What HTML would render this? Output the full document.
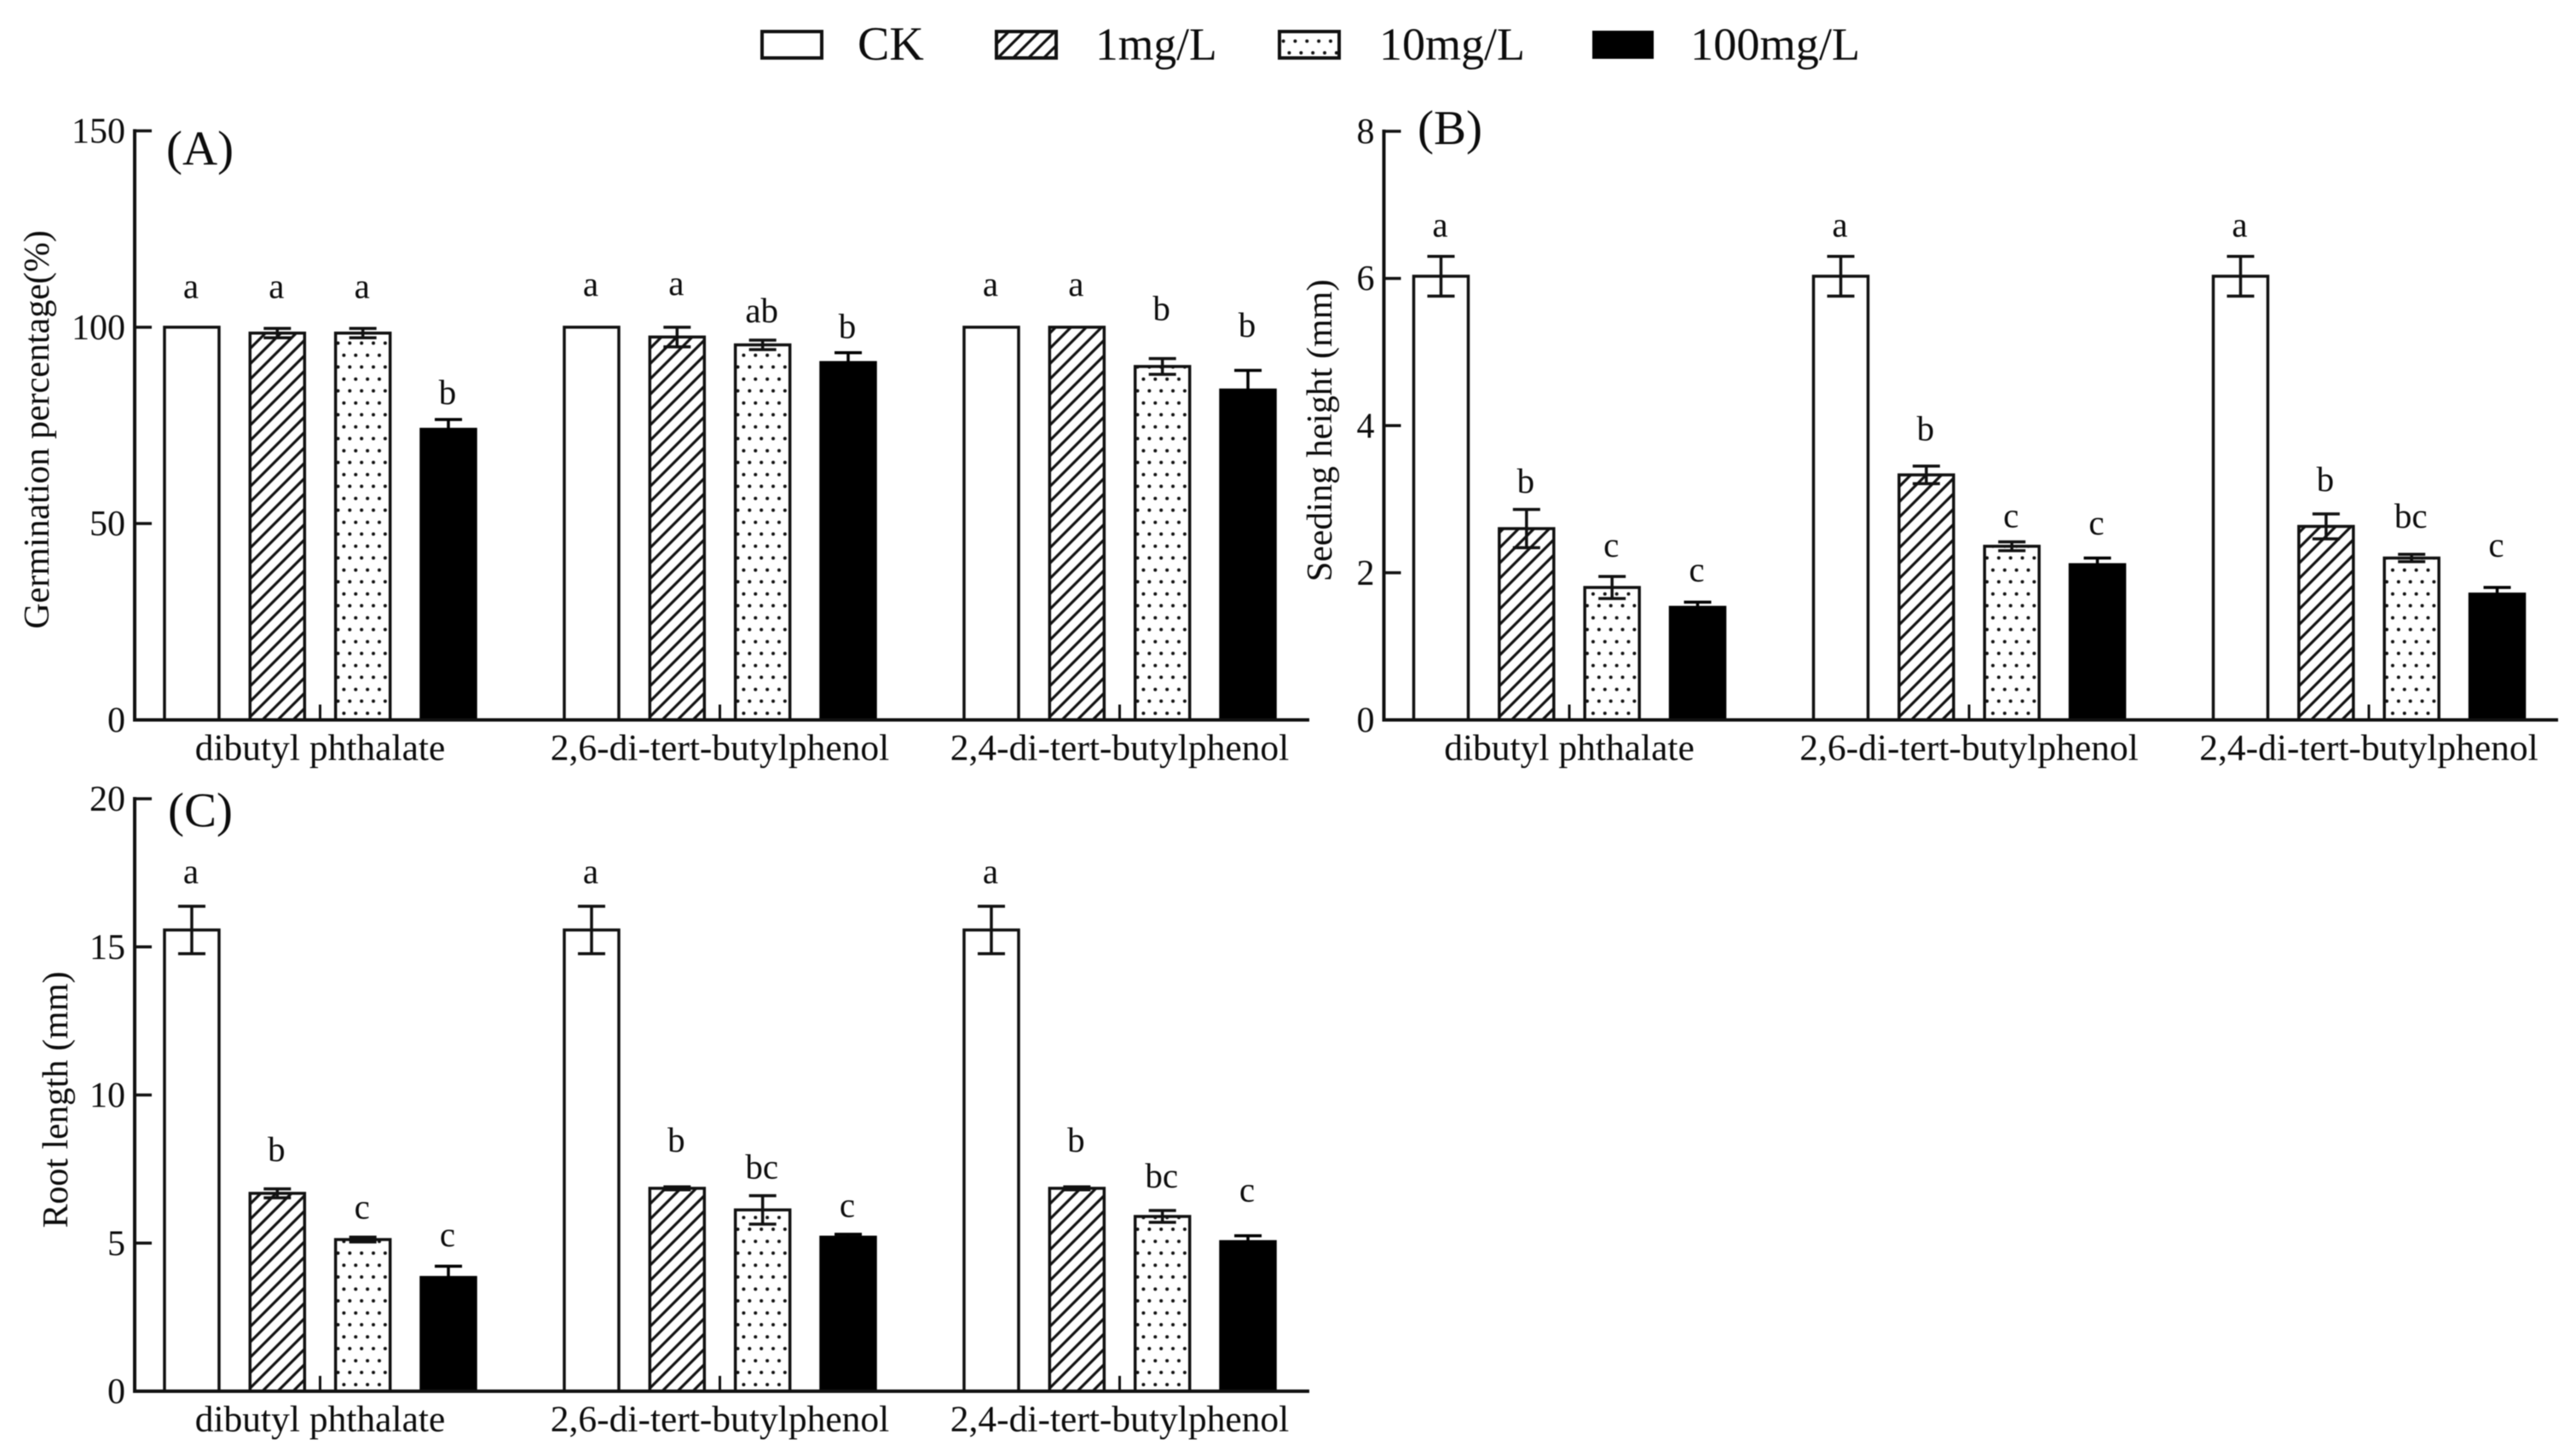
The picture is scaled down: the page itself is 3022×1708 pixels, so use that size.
<!DOCTYPE html>
<html lang="en">
<head>
<meta charset="utf-8">
<title>Germination, seedling height and root length bar charts</title>
<style>
  html, body { margin: 0; padding: 0; background: #fff; }
  #figure { display: block; width: 3022px; height: 1708px; background: #fff; filter: blur(0.5px); }
  text { font-family: "Liberation Serif", serif; fill: #0c0c0c; }
</style>
</head>
<body>
<svg id="figure" xmlns="http://www.w3.org/2000/svg" width="3022" height="1708" viewBox="0 0 3022 1708">
  <defs>
    <pattern id="hatch" patternUnits="userSpaceOnUse" width="18" height="18">
      <path d="M16.5,-2 L-2,16.5 M34.5,-2 L-2,34.5" stroke="#111" stroke-width="3.2" fill="none"/>
    </pattern>
    <pattern id="dots" patternUnits="userSpaceOnUse" width="13.85" height="28">
      <circle cx="2.8" cy="6" r="2" fill="#111"/>
      <circle cx="9.75" cy="20.2" r="2" fill="#111"/>
    </pattern>
  </defs>

  <g id="legend">
    <g>
      <rect x="894" y="37" width="70" height="31" fill="#fff" stroke="#111" stroke-width="4"/>
      <text x="1006" y="70" font-size="56">CK</text>
    </g>
    <g>
      <rect x="1169" y="37" width="70" height="31" fill="url(#hatch)" stroke="#111" stroke-width="4"/>
      <text x="1285" y="70" font-size="53.5">1mg/L</text>
    </g>
    <g>
      <rect x="1501" y="37" width="70" height="31" fill="url(#dots)" stroke="#111" stroke-width="4"/>
      <text x="1618" y="70" font-size="54">10mg/L</text>
    </g>
    <g>
      <rect x="1868" y="36" width="72" height="33" fill="#000"/>
      <text x="1983" y="70" font-size="54.3">100mg/L</text>
    </g>
  </g>
  <g id="charts"></g>
</svg>

<script>
// ---- shared categories ----
const categories = ["dibutyl phthalate", "2,6-di-tert-butylphenol", "2,4-di-tert-butylphenol"];
const seriesNames = ["CK", "1mg/L", "10mg/L", "100mg/L"];

// ---- panel A: germination percentage ----
const germinationTicks = [0, 50, 100, 150];
const germinationCK = [100, 100, 100];
const germination1mg = [98.5, 97.5, 100];
const germination10mg = [98.5, 95.5, 90];
const germination100mg = [74, 91, 84];
const germinationErrCK = [0, 0, 0];
const germinationErr1mg = [1.2, 2.5, 0];
const germinationErr10mg = [1.2, 1.2, 2];
const germinationErr100mg = [2.5, 2.5, 5];
const germinationLettersCK = ["a", "a", "a"];
const germinationLetters1mg = ["a", "a", "a"];
const germinationLetters10mg = ["a", "ab", "b"];
const germinationLetters100mg = ["b", "b", "b"];
// how far above each error cap the letter sits, in axis units
const germinationLiftCK = [7.5, 8, 8];
const germinationLift1mg = [7.8, 8.2, 8];
const germinationLift10mg = [7.8, 4.6, 9.8];
const germinationLift100mg = [3.9, 3.7, 8.6];

// ---- panel B: seedling height ----
const heightTicks = [0, 2, 4, 6, 8];
const heightCK = [6.03, 6.03, 6.03];
const height1mg = [2.6, 3.33, 2.63];
const height10mg = [1.8, 2.36, 2.2];
const height100mg = [1.53, 2.11, 1.71];
const heightErrCK = [0.27, 0.27, 0.27];
const heightErr1mg = [0.26, 0.12, 0.17];
const heightErr10mg = [0.15, 0.06, 0.05];
const heightErr100mg = [0.07, 0.09, 0.09];
const heightLettersCK = ["a", "a", "a"];
const heightLetters1mg = ["b", "b", "b"];
const heightLetters10mg = ["c", "c", "bc"];
const heightLetters100mg = ["c", "c", "c"];
const heightLiftCK = [0.27, 0.27, 0.27];
const heightLift1mg = [0.23, 0.35, 0.31];
const heightLift10mg = [0.27, 0.2, 0.36];
const heightLift100mg = [0.28, 0.32, 0.42];

// ---- panel C: root length ----
const rootTicks = [0, 5, 10, 15, 20];
const rootCK = [15.57, 15.57, 15.57];
const root1mg = [6.68, 6.85, 6.85];
const root10mg = [5.12, 6.12, 5.9];
const root100mg = [3.84, 5.2, 5.05];
const rootErrCK = [0.8, 0.8, 0.8];
const rootErr1mg = [0.15, 0.05, 0.05];
const rootErr10mg = [0.08, 0.48, 0.2];
const rootErr100mg = [0.38, 0.1, 0.2];
const rootLettersCK = ["a", "a", "a"];
const rootLetters1mg = ["b", "b", "b"];
const rootLetters10mg = ["c", "bc", "bc"];
const rootLetters100mg = ["c", "c", "c"];
const rootLiftCK = [0.78, 0.78, 0.78];
const rootLift1mg = [0.94, 1.18, 1.18];
const rootLift10mg = [0.63, 0.58, 0.78];
const rootLift100mg = [0.67, 0.58, 1.16];

const seriesFills = ["#fff", "url(#hatch)", "url(#dots)", "#000"];
const seriesKeys = ["ck", "1mg", "10mg", "100mg"];
const NS = "http://www.w3.org/2000/svg";
const INK = "#111";

function make(tag, attrs, parent, text) {
  const el = document.createElementNS(NS, tag);
  for (const k in attrs) el.setAttribute(k, attrs[k]);
  if (text !== undefined) el.textContent = text;
  parent.appendChild(el);
  return el;
}

function drawPanel(p) {
  const root = document.getElementById("charts");
  const g = make("g", {}, root);
  
  

  const maxV = p.ticks[p.ticks.length - 1];
  const y = v => p.y0 - (p.y0 - p.yTop) * v / maxV;
  const groupX = c => p.firstGroupX + c * 469;
  const barX = (c, s) => groupX(c) + (s - 1.5) * 100.35;
  const barW = 64;

  // bars, error bars and significance letters
  p.values.forEach((series, s) => {
    series.forEach((v, c) => {
      const left = barX(c, s) - barW / 2;
      const bar = make("rect", {
        x: 0, y: y(v) - p.y0, width: barW, height: p.y0 - y(v),
        transform: "translate(" + left + "," + p.y0 + ")",
        fill: seriesFills[s], stroke: s === 3 ? "#000" : INK, "stroke-width": 3.5
      }, g);
      
      

      const e = p.errors[s][c];
      if (e > 0) {
        const cx = barX(c, s);
        const err = make("path", {
          d: "M" + (cx - 16) + "," + y(v + e) + "H" + (cx + 16) +
             "M" + cx + "," + y(v + e) + "V" + y(v - e) +
             "M" + (cx - 16) + "," + y(v - e) + "H" + (cx + 16),
          stroke: s === 3 ? "#000" : INK, "stroke-width": 3.5, fill: "none"
        }, g);
        
        
      }

      const letter = make("text", {
        x: barX(c, s) - 1, y: y(v + e + p.lifts[s][c]),
        "font-size": 41, "text-anchor": "middle"
      }, g, p.letters[s][c]);
      
      
    });
  });

  // y axis
  const yAxis = make("line", {
    x1: p.axisX, x2: p.axisX, y1: p.yTop - 2, y2: p.y0 + 2, stroke: INK, "stroke-width": 4
  }, g);
  
  

  p.ticks.forEach(t => {
    const tick = make("line", {
      x1: p.axisX, x2: p.axisX + 20, y1: y(t), y2: y(t), stroke: INK, "stroke-width": 3.5
    }, g);
    
    

    const lab = make("text", {
      x: p.axisX - 11, y: y(t) + 14, "font-size": 42, "text-anchor": "end"
    }, g, String(t));
    
    
  });

  // x axis
  const xAxis = make("line", {
    x1: p.axisX - 2, x2: p.axisEnd, y1: p.y0, y2: p.y0, stroke: INK, "stroke-width": 4
  }, g);
  
  

  categories.forEach((name, c) => {
    const tick = make("line", {
      x1: groupX(c), x2: groupX(c), y1: p.y0 - 18, y2: p.y0, stroke: INK, "stroke-width": 3
    }, g);
    
    

    const lab = make("text", {
      x: groupX(c), y: p.y0 + 47, "font-size": 43.5, "text-anchor": "middle"
    }, g, name);
    
    
  });

  // titles
  const title = make("text", {
    x: 0, y: 0, "font-size": 42, "text-anchor": "middle",
    transform: "translate(" + p.titleX + "," + p.titleY + ") rotate(-90)"
  }, g, p.title);
  
  

  const tag = make("text", { x: p.tagX, y: p.tagY, "font-size": 57 }, g, p.tag);
  
  
}

drawPanel({
  key: "germination", tag: "(A)", title: "Germination percentage(%)", ticks: germinationTicks,
  values: [germinationCK, germination1mg, germination10mg, germination100mg],
  errors: [germinationErrCK, germinationErr1mg, germinationErr10mg, germinationErr100mg],
  letters: [germinationLettersCK, germinationLetters1mg, germinationLetters10mg, germinationLetters100mg],
  lifts: [germinationLiftCK, germinationLift1mg, germinationLift10mg, germinationLift100mg],
  axisX: 158, axisEnd: 1536, y0: 844.5, yTop: 153.5, firstGroupX: 375.5,
  titleX: 57, titleY: 504, tagX: 195, tagY: 193
});

drawPanel({
  key: "height", tag: "(B)", title: "Seeding height (mm)", ticks: heightTicks,
  values: [heightCK, height1mg, height10mg, height100mg],
  errors: [heightErrCK, heightErr1mg, heightErr10mg, heightErr100mg],
  letters: [heightLettersCK, heightLetters1mg, heightLetters10mg, heightLetters100mg],
  lifts: [heightLiftCK, heightLift1mg, heightLift10mg, heightLift100mg],
  axisX: 1623.5, axisEnd: 3001, y0: 844.5, yTop: 154, firstGroupX: 1841,
  titleX: 1562, titleY: 505, tagX: 1663, tagY: 169
});

drawPanel({
  key: "root", tag: "(C)", title: "Root length (mm)", ticks: rootTicks,
  values: [rootCK, root1mg, root10mg, root100mg],
  errors: [rootErrCK, rootErr1mg, rootErr10mg, rootErr100mg],
  letters: [rootLettersCK, rootLetters1mg, rootLetters10mg, rootLetters100mg],
  lifts: [rootLiftCK, rootLift1mg, rootLift10mg, rootLift100mg],
  axisX: 158, axisEnd: 1536, y0: 1632, yTop: 937, firstGroupX: 375.5,
  titleX: 79, titleY: 1290, tagX: 197, tagY: 969.5
});
</script>
</body>
</html>
